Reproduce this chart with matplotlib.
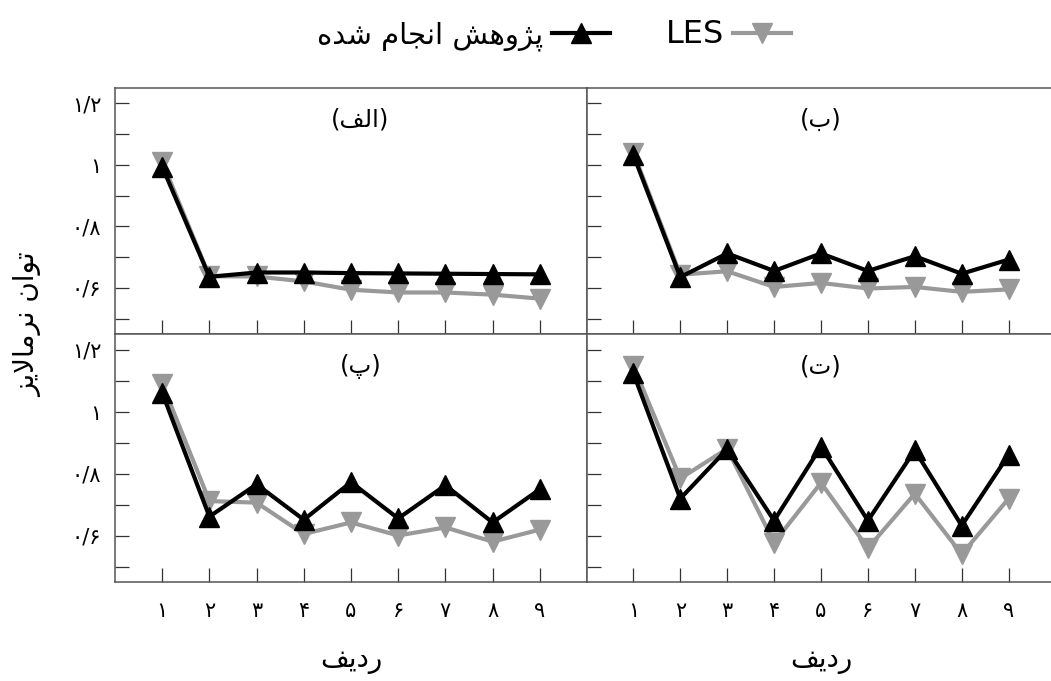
import numpy as np
import matplotlib
matplotlib.use('Agg')
import matplotlib.pyplot as plt
from matplotlib.ticker import FixedLocator

plt.rcParams['font.family'] = ['DejaVu Sans']

# --- شکل‌دهی ساده حروف فارسی (matplotlib خودش این کار را نمی‌کند) ---
# حرف: (تنها، پایانی، آغازی، میانی) ؛ None یعنی به حرف بعدی نمی‌چسبد
FORMS = {
    'ا': ('\uFE8D', '\uFE8E', None, None),
    'ب': ('\uFE8F', '\uFE90', '\uFE91', '\uFE92'),
    'پ': ('\uFB56', '\uFB57', '\uFB58', '\uFB59'),
    'ت': ('\uFE95', '\uFE96', '\uFE97', '\uFE98'),
    'ج': ('\uFE9D', '\uFE9E', '\uFE9F', '\uFEA0'),
    'د': ('\uFEA9', '\uFEAA', None, None),
    'ر': ('\uFEAD', '\uFEAE', None, None),
    'ز': ('\uFEAF', '\uFEB0', None, None),
    'ژ': ('\uFB8A', '\uFB8B', None, None),
    'ش': ('\uFEB5', '\uFEB6', '\uFEB7', '\uFEB8'),
    'ف': ('\uFED1', '\uFED2', '\uFED3', '\uFED4'),
    'ل': ('\uFEDD', '\uFEDE', '\uFEDF', '\uFEE0'),
    'م': ('\uFEE1', '\uFEE2', '\uFEE3', '\uFEE4'),
    'ن': ('\uFEE5', '\uFEE6', '\uFEE7', '\uFEE8'),
    'ه': ('\uFEE9', '\uFEEA', '\uFEEB', '\uFEEC'),
    'و': ('\uFEED', '\uFEEE', None, None),
    'ی': ('\uFBFC', '\uFBFD', '\uFBFE', '\uFBFF'),
    'ﻻ': ('\uFEFB', '\uFEFC', None, None),
}


def fa(text):
    text = text.replace('لا', 'ﻻ')
    out = []
    for i, ch in enumerate(text):
        if ch not in FORMS:
            out.append(ch)
            continue
        prev = text[i - 1] if i > 0 else ''
        nxt = text[i + 1] if i + 1 < len(text) else ''
        join_prev = prev in FORMS and FORMS[prev][2] is not None
        join_next = FORMS[ch][2] is not None and nxt in FORMS
        iso, fin, ini, med = FORMS[ch]
        if join_prev and join_next:
            out.append(med)
        elif join_prev:
            out.append(fin)
        elif join_next:
            out.append(ini)
        else:
            out.append(iso)
    return ''.join(out)[::-1]


# داده‌ها
radif = [1, 2, 3, 4, 5, 6, 7, 8, 9]
xtick_labels = ['۱', '۲', '۳', '۴', '۵', '۶', '۷', '۸', '۹']
yticks = [0.6, 0.8, 1.0, 1.2]
ytick_labels = ['۰/۶', '۰/۸', '۱', '۱/۲']

# پژوهش انجام شده
alef_ours = [0.994, 0.636, 0.650, 0.650, 0.648, 0.647, 0.646, 0.645, 0.644]
be_ours = [1.032, 0.635, 0.712, 0.655, 0.712, 0.655, 0.703, 0.646, 0.692]
pe_ours = [1.060, 0.661, 0.765, 0.651, 0.772, 0.655, 0.762, 0.642, 0.749]
te_ours = [1.123, 0.719, 0.879, 0.648, 0.887, 0.648, 0.875, 0.632, 0.860]
# LES
alef_les = [1.010, 0.638, 0.637, 0.621, 0.594, 0.585, 0.585, 0.578, 0.565]
be_les = [1.040, 0.643, 0.654, 0.603, 0.616, 0.598, 0.603, 0.587, 0.595]
pe_les = [1.090, 0.711, 0.706, 0.605, 0.642, 0.600, 0.626, 0.580, 0.619]
te_les = [1.147, 0.784, 0.880, 0.577, 0.770, 0.559, 0.735, 0.540, 0.719]

panel_titles = ['(الف)', '(ب)', '(پ)', '(ت)']
ours_label = 'پژوهش انجام شده'
les_label = 'LES'
ylabel = 'توان نرمالایز'
xlabel = 'ردیف'

fig = plt.figure(figsize=(10.51, 6.81), dpi=100)

W, H = 1051, 681
boxes = [
    (115, 88, 587, 334),
    (586.5, 88, 1055.5, 334),
    (115, 334, 587, 582),
    (586.5, 334, 1055.5, 582),
]
ours = [alef_ours, be_ours, pe_ours, te_ours]
les = [alef_les, be_les, pe_les, te_les]
title_x = [0.52, 0.50, 0.52, 0.50]

for k, (x0, y0, x1, y1) in enumerate(boxes):
    ax = fig.add_axes([x0 / W, 1 - y1 / H, (x1 - x0) / W, (y1 - y0) / H])
    l_les, = ax.plot(radif, les[k], color='#999999', lw=3, marker='v', ms=14,
                     mec='#999999', zorder=2)
    l_ours, = ax.plot(radif, ours[k], color='black', lw=3, marker='^', ms=14,
                      mec='black', zorder=3)
    ax.set_xlim(0, 10)
    ax.set_ylim(0.45, 1.25)
    ax.xaxis.set_major_locator(FixedLocator(radif))
    ax.yaxis.set_major_locator(FixedLocator(yticks))
    ax.yaxis.set_minor_locator(FixedLocator([0.5, 0.7, 0.9, 1.1]))
    ax.tick_params(which='both', direction='in', length=10, width=0.9,
                   color='#333333', top=False, right=False)
    for sp in ax.spines.values():
        sp.set_color('#555555')
        sp.set_linewidth(1.1)
    if k in (2, 3):
        ax.set_xticklabels(xtick_labels, fontsize=15)
        ax.tick_params(axis='x', pad=14)
        ax.set_xlabel(fa(xlabel), fontsize=20, labelpad=18)
    else:
        ax.set_xticklabels([])
    if k in (0, 2):
        ax.set_yticklabels(ytick_labels, fontsize=15)
        ax.tick_params(axis='y', pad=10)
    else:
        ax.set_yticklabels([])
    t = panel_titles[k]
    ax.text(title_x[k], 0.87, '(' + fa(t[1:-1]) + ')', transform=ax.transAxes,
            ha='center', va='center', fontsize=17.5)

fig.text(28 / W, 1 - 325 / H, fa(ylabel), rotation=90, ha='center',
         va='center', fontsize=20)

leg = fig.legend([l_ours, l_les], [fa(ours_label), les_label], loc='center',
                 bbox_to_anchor=(554 / W, 1 - 35 / H), ncol=2, frameon=False,
                 markerfirst=False, handlelength=2.0, handletextpad=0.3,
                 columnspacing=1.9, fontsize=21)
leg.get_texts()[1].set_fontsize(23)

fig.savefig('out.png', dpi=100)
